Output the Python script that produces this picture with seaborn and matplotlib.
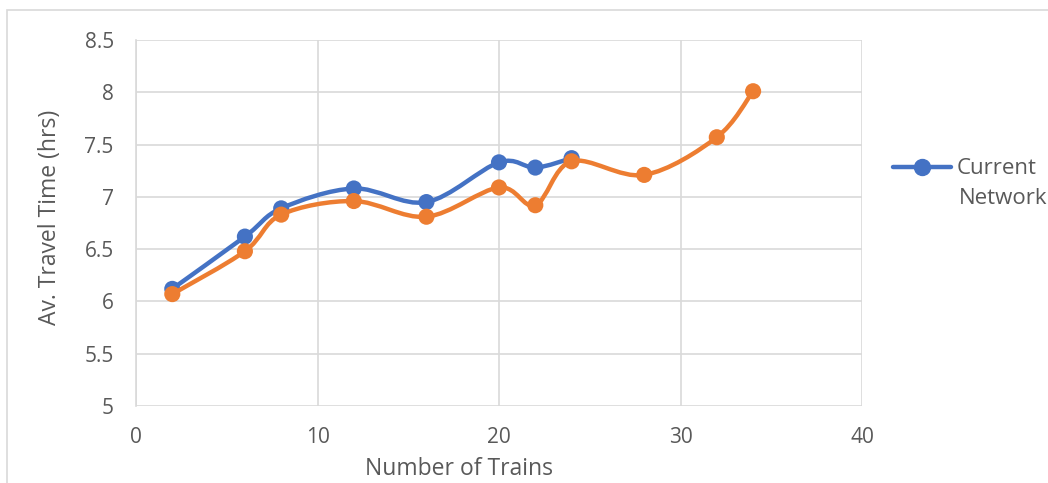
import matplotlib.pyplot as plt
import pandas as pd
import seaborn as sns
from matplotlib.path import Path
from matplotlib.patches import PathPatch, Rectangle
from matplotlib.lines import Line2D
from matplotlib.ticker import FuncFormatter

# Données
trains_current = [2, 6, 8, 12, 16, 20, 22, 24]
time_current = [6.12, 6.62, 6.89, 7.08, 6.95, 7.33, 7.28, 7.37]

trains_new = [2, 6, 8, 12, 16, 20, 22, 24, 28, 32, 34]
time_new = [6.07, 6.48, 6.83, 6.96, 6.81, 7.09, 6.92, 7.34, 7.21, 7.57, 8.01]

BLUE = "#4472C4"
ORANGE = "#ED7D31"
GRID = "#D9D9D9"
TXT = "#595959"


def smooth_path(xs, ys):
    """Courbe lissée façon Excel (Bézier / Catmull-Rom)."""
    pts = list(zip(xs, ys))
    n = len(pts)
    verts = [pts[0]]
    codes = [Path.MOVETO]
    for i in range(n - 1):
        p0 = pts[max(i - 1, 0)]
        p1 = pts[i]
        p2 = pts[i + 1]
        p3 = pts[min(i + 2, n - 1)]
        c1 = (p1[0] + (p2[0] - p0[0]) / 6, p1[1] + (p2[1] - p0[1]) / 6)
        c2 = (p2[0] - (p3[0] - p1[0]) / 6, p2[1] - (p3[1] - p1[1]) / 6)
        verts += [c1, c2, p2]
        codes += [Path.CURVE4] * 3
    return Path(verts, codes)


sns.set_theme(style="white")
plt.rcParams['font.family'] = ['Open Sans', 'DejaVu Sans']

fig = plt.figure(figsize=(10.48, 4.83), dpi=100)
ax = fig.add_axes([136 / 1048, 77 / 483, 726 / 1048, 366 / 483])

# Cadre extérieur du graphique
fig.patches.append(Rectangle((7 / 1048, -0.01), 1.0, 1 - 10 / 483 + 0.01,
                             transform=fig.transFigure, fill=False,
                             edgecolor=GRID, linewidth=1.2))

df_cur = pd.DataFrame({"x": trains_current, "y": time_current})
df_new = pd.DataFrame({"x": trains_new, "y": time_new})

for df, color, z in [(df_cur, BLUE, 3), (df_new, ORANGE, 5)]:
    patch = PathPatch(smooth_path(df["x"], df["y"]), facecolor="none",
                      edgecolor=color, linewidth=3.2, capstyle="round",
                      joinstyle="round", zorder=z)
    ax.add_patch(patch)
    sns.scatterplot(data=df, x="x", y="y", color=color, s=135,
                    edgecolor="none", zorder=z + 1, ax=ax, legend=False)

ax.set_xlim(0, 40)
ax.set_ylim(5, 8.5)
ax.set_xticks([0, 10, 20, 30, 40])
ax.set_yticks([5, 5.5, 6, 6.5, 7, 7.5, 8, 8.5])
ax.yaxis.set_major_formatter(FuncFormatter(lambda v, p: f"{v:g}"))
ax.grid(True, color=GRID, linewidth=1.2)
ax.set_axisbelow(True)
for side in ["top", "right", "bottom"]:
    ax.spines[side].set_visible(False)
ax.spines["left"].set_color(GRID)
ax.spines["left"].set_linewidth(1.2)
ax.tick_params(axis="both", length=0, labelsize=15, labelcolor=TXT)
ax.tick_params(axis="y", pad=16)
ax.tick_params(axis="x", pad=15)

ax.set_xlabel("Number of Trains", fontsize=16.5, color=TXT)
ax.set_ylabel("Av. Travel Time (hrs)", fontsize=16.5, color=TXT)
ax.xaxis.set_label_coords(0.445, -0.14)
ax.yaxis.set_label_coords(-0.102, 0.516)

# Légende (seule la série bleue apparaît)
handle = Line2D([0], [0], color=BLUE, lw=3.2, marker="o", markersize=11.5)
fig.legend([handle], ["Current"], loc="center left",
           bbox_to_anchor=(893 / 1048, 1 - 169 / 483), frameon=False,
           fontsize=16, labelcolor=TXT, handlelength=2.6, handletextpad=0.25,
           borderaxespad=0, borderpad=0)
fig.text(959 / 1048, 1 - 199 / 483, "Network", fontsize=16, color=TXT,
         va="center", ha="left")

fig.savefig("out.png", dpi=100)
